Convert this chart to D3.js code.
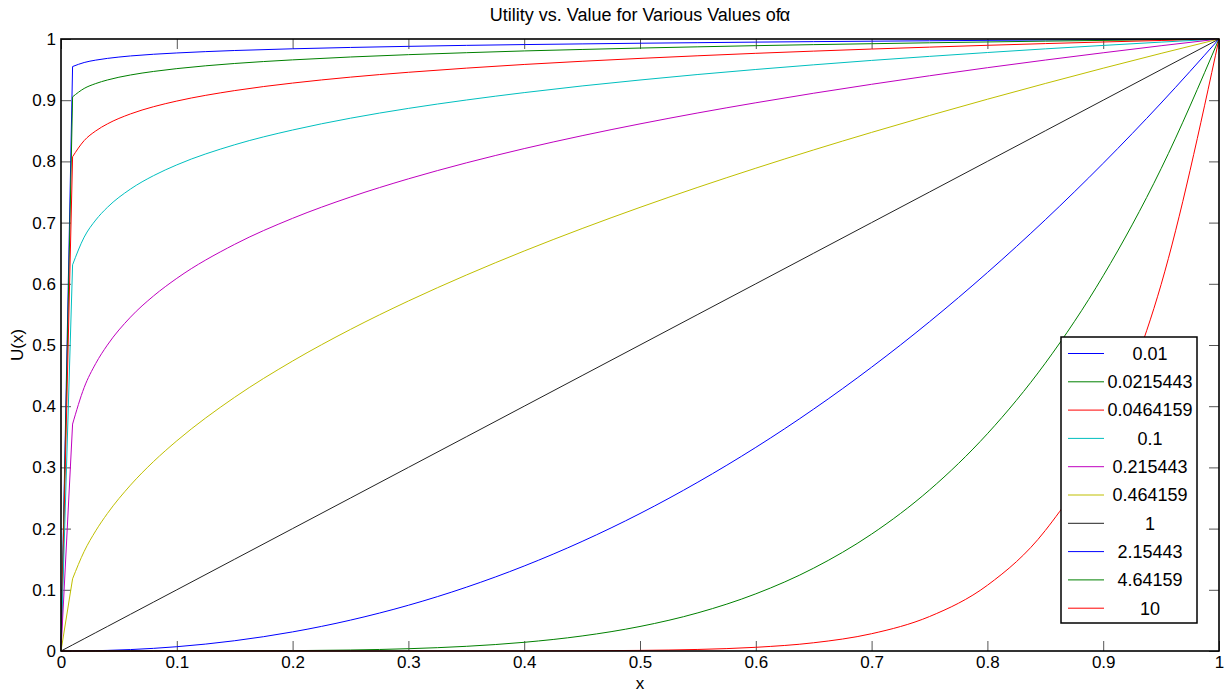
<!DOCTYPE html>
<html>
<head>
<meta charset="utf-8">
<script src="https://cdn.jsdelivr.net/npm/d3@7"></script>
<style>
  body { margin: 0; background: #fff; }
  svg { display: block; font-family: 'Liberation Sans', Arial, sans-serif; }
</style>
</head>
<body>
<div id="chart"></div>
<script>
  // x positions the curves were read at
  var X_VALUES = [0, 0.01, 0.02, 0.03, 0.04, 0.06, 0.08, 0.1, 0.15, 0.2, 0.25, 0.3, 0.35, 0.4,
    0.45, 0.5, 0.55, 0.6, 0.65, 0.7, 0.75, 0.8, 0.85, 0.9, 0.95, 1];

  var ALPHA_LABELS = ['0.01', '0.0215443', '0.0464159', '0.1', '0.215443', '0.464159',
    '1', '2.15443', '4.64159', '10'];

  var SERIES_COLORS = ['#0000ff', '#008000', '#ff0000', '#00bfbf', '#bf00bf', '#bfbf00',
    '#222222', '#0000ff', '#008000', '#ff0000'];

  // U(x), one array per alpha
  var U_A1 = [0, 0.955, 0.9616, 0.9655, 0.9683, 0.9723, 0.9751, 0.9772, 0.9812, 0.984, 0.9862,
    0.988, 0.9896, 0.9909, 0.992, 0.9931, 0.994, 0.9949, 0.9957, 0.9964, 0.9971, 0.9978, 0.9984,
    0.9989, 0.9995, 1];
  var U_A2 = [0, 0.9055, 0.9192, 0.9272, 0.933, 0.9412, 0.947, 0.9516, 0.96, 0.9659, 0.9706,
    0.9744, 0.9776, 0.9805, 0.9829, 0.9852, 0.9872, 0.9891, 0.9908, 0.9923, 0.9938, 0.9952,
    0.9965, 0.9977, 0.9989, 1];
  var U_A3 = [0, 0.8076, 0.834, 0.8498, 0.8612, 0.8776, 0.8894, 0.8986, 0.9157, 0.928, 0.9377,
    0.9456, 0.9524, 0.9584, 0.9636, 0.9683, 0.9726, 0.9766, 0.9802, 0.9836, 0.9867, 0.9897,
    0.9925, 0.9951, 0.9976, 1];
  var U_A4 = [0, 0.631, 0.6762, 0.7042, 0.7248, 0.7548, 0.7768, 0.7943, 0.8272, 0.8513, 0.8706,
    0.8866, 0.9003, 0.9124, 0.9233, 0.933, 0.942, 0.9502, 0.9578, 0.965, 0.9716, 0.9779, 0.9839,
    0.9895, 0.9949, 1];
  var U_A5 = [0, 0.3708, 0.4305, 0.4698, 0.4998, 0.5455, 0.5803, 0.6089, 0.6645, 0.707, 0.7418,
    0.7715, 0.7976, 0.8209, 0.842, 0.8613, 0.8792, 0.8958, 0.9114, 0.926, 0.9399, 0.9531, 0.9656,
    0.9775, 0.989, 1];
  var U_A6 = [0, 0.118, 0.1627, 0.1964, 0.2245, 0.271, 0.3097, 0.3434, 0.4146, 0.4738, 0.5255,
    0.5719, 0.6143, 0.6536, 0.6903, 0.7249, 0.7577, 0.7889, 0.8188, 0.8474, 0.875, 0.9016, 0.9273,
    0.9523, 0.9765, 1];
  var U_A7 = [0, 0.01, 0.02, 0.03, 0.04, 0.06, 0.08, 0.1, 0.15, 0.2, 0.25, 0.3, 0.35, 0.4,
    0.45, 0.5, 0.55, 0.6, 0.65, 0.7, 0.75, 0.8, 0.85, 0.9, 0.95, 1];
  var U_A8 = [0, 0.00005, 0.00022, 0.00052, 0.00097, 0.00233, 0.00433, 0.007, 0.01679, 0.0312,
    0.05047, 0.07474, 0.1042, 0.1389, 0.179, 0.2246, 0.2759, 0.3327, 0.3953, 0.4637, 0.538,
    0.6184, 0.7046, 0.7969, 0.8954, 1];
  var U_A9 = [0, 0, 0, 0, 0, 0, 0, 0.00002, 0.00015, 0.00057, 0.0016, 0.00374, 0.00765, 0.01422,
    0.02457, 0.04007, 0.06236, 0.0934, 0.1354, 0.191, 0.2631, 0.355, 0.4703, 0.6131, 0.7881, 1];
  var U_A10 = [0, 0, 0, 0, 0, 0, 0, 0, 0, 0, 0, 0.000006, 0.000028, 0.000105, 0.000341, 0.000977,
    0.00253, 0.00605, 0.01346, 0.02825, 0.05631, 0.1074, 0.1969, 0.3487, 0.5987, 1];

  var TICK_VALUES = [0, 0.1, 0.2, 0.3, 0.4, 0.5, 0.6, 0.7, 0.8, 0.9, 1];
  var TICK_LABELS = ['0', '0.1', '0.2', '0.3', '0.4', '0.5', '0.6', '0.7', '0.8', '0.9', '1'];

  var U_SERIES = [U_A1, U_A2, U_A3, U_A4, U_A5, U_A6, U_A7, U_A8, U_A9, U_A10];

  var series = ALPHA_LABELS.map(function(label, i) {
    return {
      label: label,
      color: SERIES_COLORS[i],
      points: X_VALUES.map(function(x, j) { return [x, U_SERIES[i][j]]; })
    };
  });

  var svgWidth = 1225, svgHeight = 695;
  var margin = { top: 39, right: 6, bottom: 44, left: 61 };
  var width = svgWidth - margin.left - margin.right;
  var height = svgHeight - margin.top - margin.bottom;

  var svg = d3.select('#chart').append('svg')
    .attr('width', svgWidth)
    .attr('height', svgHeight);

  var xScale = d3.scaleLinear().domain([0, 1]).range([0, width]);
  var yScale = d3.scaleLinear().domain([0, 1]).range([height, 0]);

  var tickLabel = function(d) { return TICK_LABELS[TICK_VALUES.indexOf(d)]; };

  var g = svg.append('g')
    .attr('transform', 'translate(' + margin.left + ',' + margin.top + ')');

  // ticks point inwards on all four sides
  var axes = [
    { axis: d3.axisBottom(xScale).tickFormat(tickLabel), t: [0, height] },
    { axis: d3.axisTop(xScale).tickFormat(''), t: [0, 0] },
    { axis: d3.axisLeft(yScale).tickFormat(tickLabel), t: [0, 0] },
    { axis: d3.axisRight(yScale).tickFormat(''), t: [width, 0] }
  ];
  axes.forEach(function(a) {
    var ag = g.append('g')
      .attr('transform', 'translate(' + a.t[0] + ',' + a.t[1] + ')')
      .call(a.axis.tickValues(TICK_VALUES).tickSize(-10).tickPadding(5));
    ag.select('.domain').remove();
    ag.selectAll('line').attr('stroke', '#555');
    ag.selectAll('text')
      .attr('fill', '#000')
      .style('font-size', '17px')
      .style('font-family', "'Liberation Sans', Arial, sans-serif");
  });

  // curves: straight first step from x=0, smooth after that
  var line = d3.line()
    .x(function(d) { return xScale(d[0]); })
    .y(function(d) { return yScale(d[1]); })
    .curve(d3.curveMonotoneX);

  g.selectAll('.series')
    .data(series)
    .enter().append('path')
    .attr('class', 'series')
    .attr('fill', 'none')
    .attr('stroke', function(d) { return d.color; })
    .attr('stroke-width', 1)
    .attr('d', function(d) {
      var p0 = d.points[0];
      var rest = line(d.points.slice(1));
      return 'M' + xScale(p0[0]) + ',' + yScale(p0[1]) + 'L' + rest.slice(1);
    });

  // plot frame
  g.append('rect')
    .attr('width', width)
    .attr('height', height)
    .attr('fill', 'none')
    .attr('stroke', '#000')
    .attr('stroke-width', 1.6);

  // legend
  var legend = g.append('g')
    .attr('transform', 'translate(' + (width - 158) + ',' + 298 + ')');
  legend.append('rect')
    .attr('width', 136)
    .attr('height', 286)
    .attr('fill', '#fff')
    .attr('stroke', '#000')
    .attr('stroke-width', 1.5);
  var items = legend.selectAll('.item')
    .data(series)
    .enter().append('g')
    .attr('class', 'item')
    .attr('transform', function(d, i) { return 'translate(0,' + (16.5 + i * 28.3) + ')'; });
  items.append('line')
    .attr('x1', 7)
    .attr('x2', 43)
    .attr('stroke', function(d) { return d.color; })
    .attr('stroke-width', 1);
  items.append('text')
    .attr('x', 89)
    .attr('dy', '0.35em')
    .attr('text-anchor', 'middle')
    .style('font-size', '18px')
    .text(function(d) { return d.label; });

  // titles
  svg.append('text')
    .attr('x', margin.left + width / 2)
    .attr('y', 21)
    .attr('text-anchor', 'middle')
    .style('font-size', '18px')
    .text('Utility vs. Value for Various Values of')
    .append('tspan')
    .attr('dx', -1)
    .text('α');

  svg.append('text')
    .attr('x', margin.left + width / 2)
    .attr('y', 689)
    .attr('text-anchor', 'middle')
    .style('font-size', '17px')
    .text('x');

  svg.append('text')
    .attr('transform', 'translate(23,' + (margin.top + height / 2) + ') rotate(-90)')
    .attr('text-anchor', 'middle')
    .style('font-size', '17px')
    .text('U(x)');
</script>
</body>
</html>
